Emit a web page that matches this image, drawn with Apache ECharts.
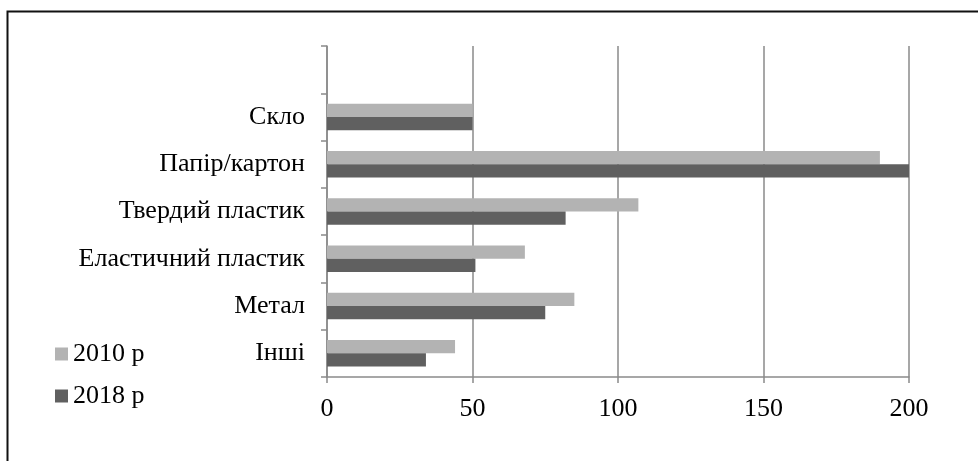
<!DOCTYPE html>
<html>
<head>
<meta charset="utf-8">
<script src="https://cdn.jsdelivr.net/npm/echarts@6/dist/echarts.min.js"></script>
<style>
  html, body { margin: 0; padding: 0; background: #fff; }
  #chart { width: 978px; height: 461px; }
</style>
</head>
<body>
<div id="chart"></div>
<script>
// Packaging waste by material (bottom-to-top order for the category axis)
const categories = ['Інші', 'Метал', 'Еластичний пластик', 'Твердий пластик', 'Папір/картон', 'Скло', ''];
const values2010 = [44, 85, 68, 107, 190, 50, null];
const values2018 = [34, 75, 51, 82, 200, 50, null];
const xTicks = { min: 0, max: 200, interval: 50 };

const FONT = '"Liberation Serif", "Times New Roman", serif';
const LINE = '#8a8a8a';

const chart = echarts.init(document.getElementById('chart'), null, { renderer: 'canvas' });

chart.setOption({
  animation: false,
  backgroundColor: '#fff',
  textStyle: { fontFamily: FONT },
  graphic: [{
    type: 'rect',
    shape: { x: 7.5, y: 11.5, width: 1000, height: 500 },
    style: { fill: 'none', stroke: '#111', lineWidth: 2 },
    silent: true
  }],
  grid: { left: 327, right: 69, top: 46, bottom: 84 },
  legend: {
    orient: 'vertical',
    left: 50,
    top: 336,
    itemWidth: 13,
    itemHeight: 13,
    itemGap: 16,
    icon: 'rect',
    data: ['2010 р', '2018 р'],
    textStyle: { fontFamily: FONT, fontSize: 26, color: '#000' }
  },
  xAxis: {
    type: 'value',
    min: xTicks.min,
    max: xTicks.max,
    interval: xTicks.interval,
    axisLine: { show: true, lineStyle: { color: LINE, width: 1.5 } },
    axisTick: { show: true, length: 6, lineStyle: { color: LINE, width: 1.5 } },
    splitLine: { show: true, lineStyle: { color: LINE, width: 1.5 } },
    axisLabel: { fontFamily: FONT, fontSize: 26, color: '#000', margin: 19 }
  },
  yAxis: {
    type: 'category',
    data: categories,
    boundaryGap: true,
    axisLine: { show: true, lineStyle: { color: LINE, width: 1.5 } },
    axisTick: { show: true, length: 6, lineStyle: { color: LINE, width: 1.5 } },
    axisLabel: { fontFamily: FONT, fontSize: 26, color: '#000', margin: 22 },
    splitLine: { show: false }
  },
  series: [
    {
      name: '2010 р',
      type: 'bar',
      data: values2010,
      itemStyle: { color: '#b3b3b3' },
      barGap: '0%',
      barCategoryGap: '44%'
    },
    {
      name: '2018 р',
      type: 'bar',
      data: values2018,
      itemStyle: { color: '#606060' },
      barGap: '0%',
      barCategoryGap: '44%'
    }
  ]
});
</script>
</body>
</html>
